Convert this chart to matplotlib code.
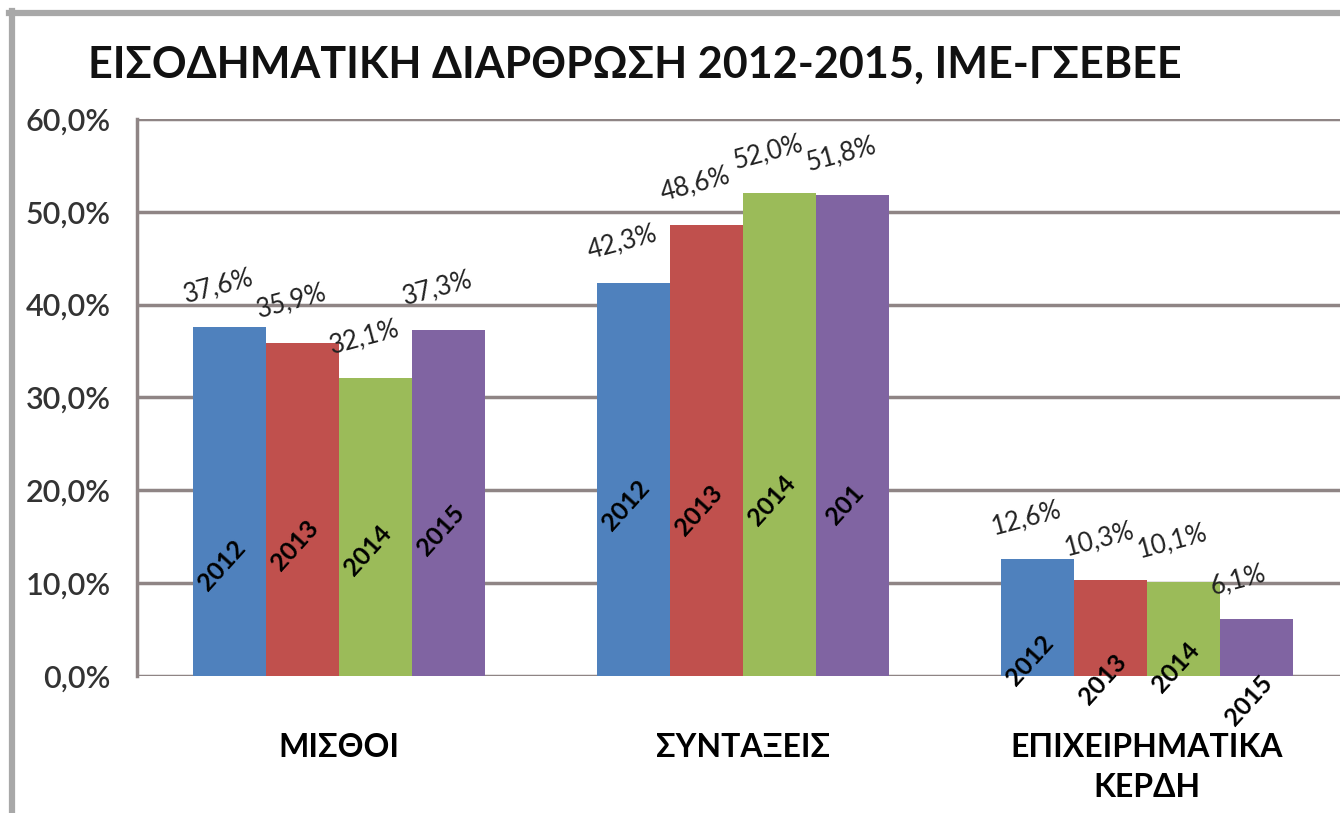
import matplotlib
matplotlib.use("Agg")
import matplotlib.pyplot as plt
import numpy as np
from matplotlib.lines import Line2D

plt.rcParams['font.family'] = ['Lato', 'Open Sans', 'DejaVu Sans']

title = "ΕΙΣΟΔΗΜΑΤΙΚΗ ΔΙΑΡΘΡΩΣΗ 2012-2015, ΙΜΕ-ΓΣΕΒΕΕ"
categories = ["ΜΙΣΘΟΙ", "ΣΥΝΤΑΞΕΙΣ", "ΕΠΙΧΕΙΡΗΜΑΤΙΚΑ\nΚΕΡΔΗ"]
years = ["2012", "2013", "2014", "2015"]
v2012 = [37.6, 42.3, 12.6]
v2013 = [35.9, 48.6, 10.3]
v2014 = [32.1, 52.0, 10.1]
v2015 = [37.3, 51.8, 6.1]
series = [v2012, v2013, v2014, v2015]
# year label texts as shown in the picture (one is truncated in the original)
year_texts = [["2012", "2012", "2012"],
              ["2013", "2013", "2013"],
              ["2014", "2014", "2014"],
              ["2015", "201", "2015"]]
year_label_y = [[11.9, 18.4, 1.7],
                [14.1, 17.8, -0.4],
                [13.5, 18.9, 0.9],
                [15.7, 18.4, -2.6]]
ticks = [0, 10, 20, 30, 40, 50, 60]

colors = ["#4F81BD", "#C0504D", "#9BBB59", "#8064A2"]

W, H = 1340, 813
fig = plt.figure(figsize=(W / 100, H / 100), dpi=100)
fig.patch.set_facecolor("white")

# outer frame (top and left edges visible)
frame_c = "#a8a8a8"
fig.add_artist(Line2D([9 / W, 1.0], [1 - 13 / H, 1 - 13 / H], transform=fig.transFigure,
                      color=frame_c, lw=4.5))
fig.add_artist(Line2D([12 / W, 12 / W], [0, 1 - 11 / H], transform=fig.transFigure,
                      color=frame_c, lw=4.5))

left_px, bottom_px, top_px = 137, 676, 119
pitch = 404.0
ax = fig.add_axes([left_px / W, (H - bottom_px) / H, 1 - left_px / W,
                   (bottom_px - top_px) / H])
ax.set_xlim(-0.5, -0.5 + (W - left_px) / pitch)
ax.set_ylim(0, 60)

bw = 73 / pitch
x = np.arange(len(categories))
offsets = (np.arange(4) - 1.5) * bw

grid_c = "#8f8585"
for t in ticks:
    ax.axhline(t, color=grid_c, lw=2.5, zorder=1)

for i, (vals, c) in enumerate(zip(series, colors)):
    xs = x + offsets[i]
    ax.bar(xs, vals, width=bw, color=c, zorder=2, linewidth=0)
    for j, v in enumerate(vals):
        ax.annotate(f"{v:.1f}%".replace(".", ","), xy=(xs[j] - bw / 2, v),
                    xytext=(-6, 20), textcoords="offset pixels",
                    ha="left", va="bottom", rotation=15, rotation_mode="anchor",
                    fontsize=18.5, color="#222222", zorder=4, annotation_clip=False)
        ax.annotate(year_texts[i][j], xy=(xs[j], year_label_y[i][j]),
                    xytext=(-8, 0), textcoords="offset pixels", rotation=48,
                    ha="center", va="center", rotation_mode="anchor",
                    fontsize=18, fontweight="bold", color="black", zorder=4,
                    annotation_clip=False)

ax.set_yticks(ticks)
ax.set_yticklabels([f"{t:.1f}%".replace(".", ",") for t in ticks],
                   fontsize=22, color="#333333", fontweight="semibold")
ax.tick_params(axis="y", length=0, pad=19)
ax.set_xticks(x)
ax.set_xticklabels(categories, fontsize=23, fontweight="bold", color="black",
                   linespacing=1.45)
ax.tick_params(axis="x", length=0, pad=41)
for lab in ax.get_xticklabels():
    lab.set_verticalalignment("top")

for s in ["top", "right", "bottom"]:
    ax.spines[s].set_visible(False)
ax.spines["left"].set_color(grid_c)
ax.spines["left"].set_linewidth(2.5)
ax.set_facecolor("white")
ax.patch.set_alpha(0)

fig.text(88 / W, 1 - 78 / H, title, fontsize=31, fontweight="bold",
         ha="left", va="baseline", color="#111111")

fig.savefig("out.png", dpi=100, facecolor="white")
